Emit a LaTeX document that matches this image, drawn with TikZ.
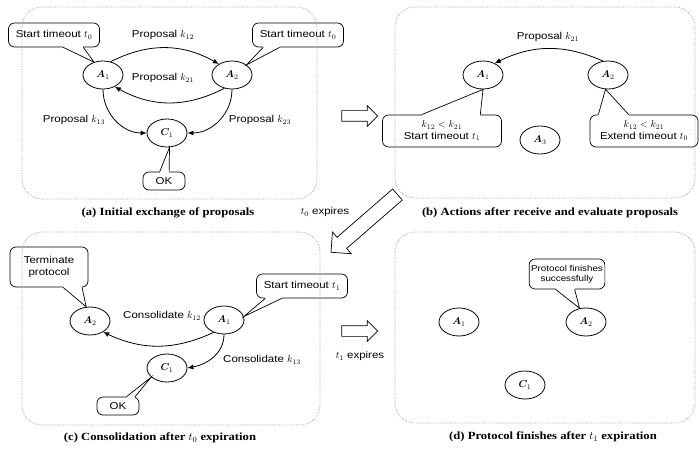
\documentclass[tikz,border=0pt]{standalone}
\usepackage{bm}
\usepackage{fontspec}
\newfontfamily\labelfont[FakeStretch=1.15]{Liberation Sans}
\newfontfamily\capfont[FakeStretch=1.15]{Liberation Serif}
\usetikzlibrary{shapes.geometric,shapes.arrows,arrows.meta,calc}

% tail of a speech bubble: two base points on the bubble edge and the tip
\newcommand\bubbletail[3]{%
  \draw[white,line width=1.8pt] (#1) -- (#2);
  \draw[line width=0.7pt,line join=miter] (#1) -- (#3) -- (#2);}

\begin{document}
\begin{tikzpicture}[x=1pt,y=-1pt,
  agent/.style={ellipse,draw,line width=0.8pt,minimum width=40pt,minimum height=28pt,inner sep=0pt},
  panel/.style={draw=gray!75,densely dotted,line width=0.7pt,rounded corners=20pt},
  msg/.style={-{Latex[length=6pt,width=5pt]},line width=0.8pt},
  lbl/.style={font=\labelfont\fontsize{10}{11}\selectfont,inner sep=1pt},
  note/.style={draw,line width=0.7pt,rounded corners=6pt,align=center,
    font=\labelfont\fontsize{10}{11.5}\selectfont,inner sep=2pt},
  caption/.style={font=\capfont\bfseries\fontsize{11}{13}\selectfont},
  flow/.style={single arrow,draw,line width=0.7pt,minimum height=36pt,inner sep=5pt,
    single arrow head extend=5pt},
  bigflow/.style={single arrow,draw,line width=0.7pt,minimum height=88pt,inner sep=7pt,
    single arrow head extend=7pt}
]
\useasboundingbox (0,0) rectangle (700,449);

% ---------- (a) initial exchange ----------
\node[agent] (a1) at (103,75) {$\bm{A}_1$};
\node[agent] (a2) at (232,75) {$\bm{A}_2$};
\node[agent] (c1) at (167,133) {$\bm{C}_1$};
\draw[msg] (a1.60) to[bend left=28] (a2.140);
\draw[msg] (a2.-120) to[bend left=28] (a1.-45);
\draw[msg] (a1.-90) to[out=-90,in=180] (c1.west);
\draw[msg] (a2.-90) to[out=-90,in=0] (c1.east);
\node[lbl] (p12) at (163,35) {Proposal $k_{12}$};
\node[lbl] (p21) at (163,78) {Proposal $k_{21}$};
\node[lbl] (p13) at (74,120) {Proposal $k_{13}$};
\node[lbl] (p23) at (260,120) {Proposal $k_{23}$};
\node[note,minimum width=91pt,minimum height=24pt] (na1) at (54,35) {Start timeout $t_0$};
\bubbletail{$(na1.south west)!0.6!(na1.south east)$}{$(na1.south west)!0.82!(na1.south east)$}{a1.125}
\node[note,minimum width=91pt,minimum height=24pt] (na2) at (298,35) {Start timeout $t_0$};
\bubbletail{$(na2.south west)!0.12!(na2.south east)$}{$(na2.south west)!0.3!(na2.south east)$}{a2.35}
\node[note,minimum width=42pt,minimum height=18pt] (ok1) at (164,181) {OK};
\bubbletail{$(ok1.north west)!0.4!(ok1.north east)$}{$(ok1.north west)!0.62!(ok1.north east)$}{c1.-80}
\node[caption] (capa) at (168,213) {(a) Initial exchange of proposals};

% ---------- (b) evaluation ----------
\node[agent] (b1) at (483,75) {$\bm{A}_1$};
\node[agent] (b2) at (608,75) {$\bm{A}_2$};
\node[agent] (b3) at (540,140) {$\bm{A}_3$};
\draw[msg] (b2.110) to[bend right=25] (b1.45);
\node[lbl] (pb) at (548,37) {Proposal $k_{21}$};
\node[note,minimum width=119pt,minimum height=32pt] (nb1) at (442,131) {$k_{12} < k_{21}$\\Start timeout $t_1$};
\bubbletail{$(nb1.north west)!0.33!(nb1.north east)$}{$(nb1.north west)!0.82!(nb1.north east)$}{b1.-90}
\node[note,minimum width=108pt,minimum height=32pt] (nb2) at (644,131) {$k_{12} < k_{21}$\\Extend timeout $t_0$};
\bubbletail{$(nb2.north west)!0.08!(nb2.north east)$}{$(nb2.north west)!0.36!(nb2.north east)$}{b2.-100}
\node[caption] (capb) at (550,213) {(b) Actions after receive and evaluate proposals};

% ---------- (c) consolidation ----------
\node[agent] (c2n) at (90,321) {$\bm{A}_2$};
\node[agent] (c1n) at (224,320) {$\bm{A}_1$};
\node[agent] (cc) at (167,368) {$\bm{C}_1$};
\draw[msg] (c1n.-130) to[bend left=25] (c2n.-40);
\draw[msg] (c1n.-90) to[out=-90,in=10] (cc.east);
\node[lbl] (k12c) at (162,316) {Consolidate $k_{12}$};
\node[lbl] (k13c) at (262,360) {Consolidate $k_{13}$};
\node[note,minimum width=78pt,minimum height=40pt] (nc1) at (49,267) {Terminate\\protocol};
\bubbletail{$(nc1.south west)!0.68!(nc1.south east)$}{$(nc1.south west)!0.92!(nc1.south east)$}{c2n.105}
\node[note,minimum width=91pt,minimum height=24pt] (nc2) at (302,286) {Start timeout $t_1$};
\bubbletail{$(nc2.south west)!0.1!(nc2.south east)$}{$(nc2.south west)!0.28!(nc2.south east)$}{c1n.10}
\node[note,minimum width=42pt,minimum height=18pt] (ok2) at (118,406) {OK};
\bubbletail{$(ok2.north west)!0.7!(ok2.north east)$}{$(ok2.north west)!0.9!(ok2.north east)$}{cc.-150}
\node[caption] (capc) at (160,438) {(c) Consolidation after $t_0$ expiration};

% ---------- (d) completion ----------
\node[agent] (d1) at (459,322) {$\bm{A}_1$};
\node[agent] (d2) at (586,322) {$\bm{A}_2$};
\node[agent] (dc) at (525,385) {$\bm{C}_1$};
\node[note,font=\labelfont\fontsize{8.5}{10}\selectfont,minimum width=72pt,minimum height=30pt] (nd) at (567,274) {Protocol finishes\\successfully};
\bubbletail{$(nd.south west)!0.35!(nd.south east)$}{$(nd.south west)!0.6!(nd.south east)$}{d2.115}
\node[caption] (capd) at (553,437) {(d) Protocol finishes after $t_1$ expiration};

% ---------- transitions ----------
\node[flow] (ab) at (357,116) {};
\node[flow] (cd) at (357,331) {};
\node[bigflow,rotate=221] (bc) at (367,221) {};
\node[lbl] (t0x) at (325,212) {$t_0$ expires};
\node[lbl] (t1x) at (360,356) {$t_1$ expires};

% ---------- panels ----------
\draw[panel] (22,7) rectangle (317,199);
\draw[panel] (395,7) rectangle (695,198);
\draw[panel] (22,232) rectangle (320,425);
\draw[panel] (395,232) rectangle (695,423);
\end{tikzpicture}
\end{document}
